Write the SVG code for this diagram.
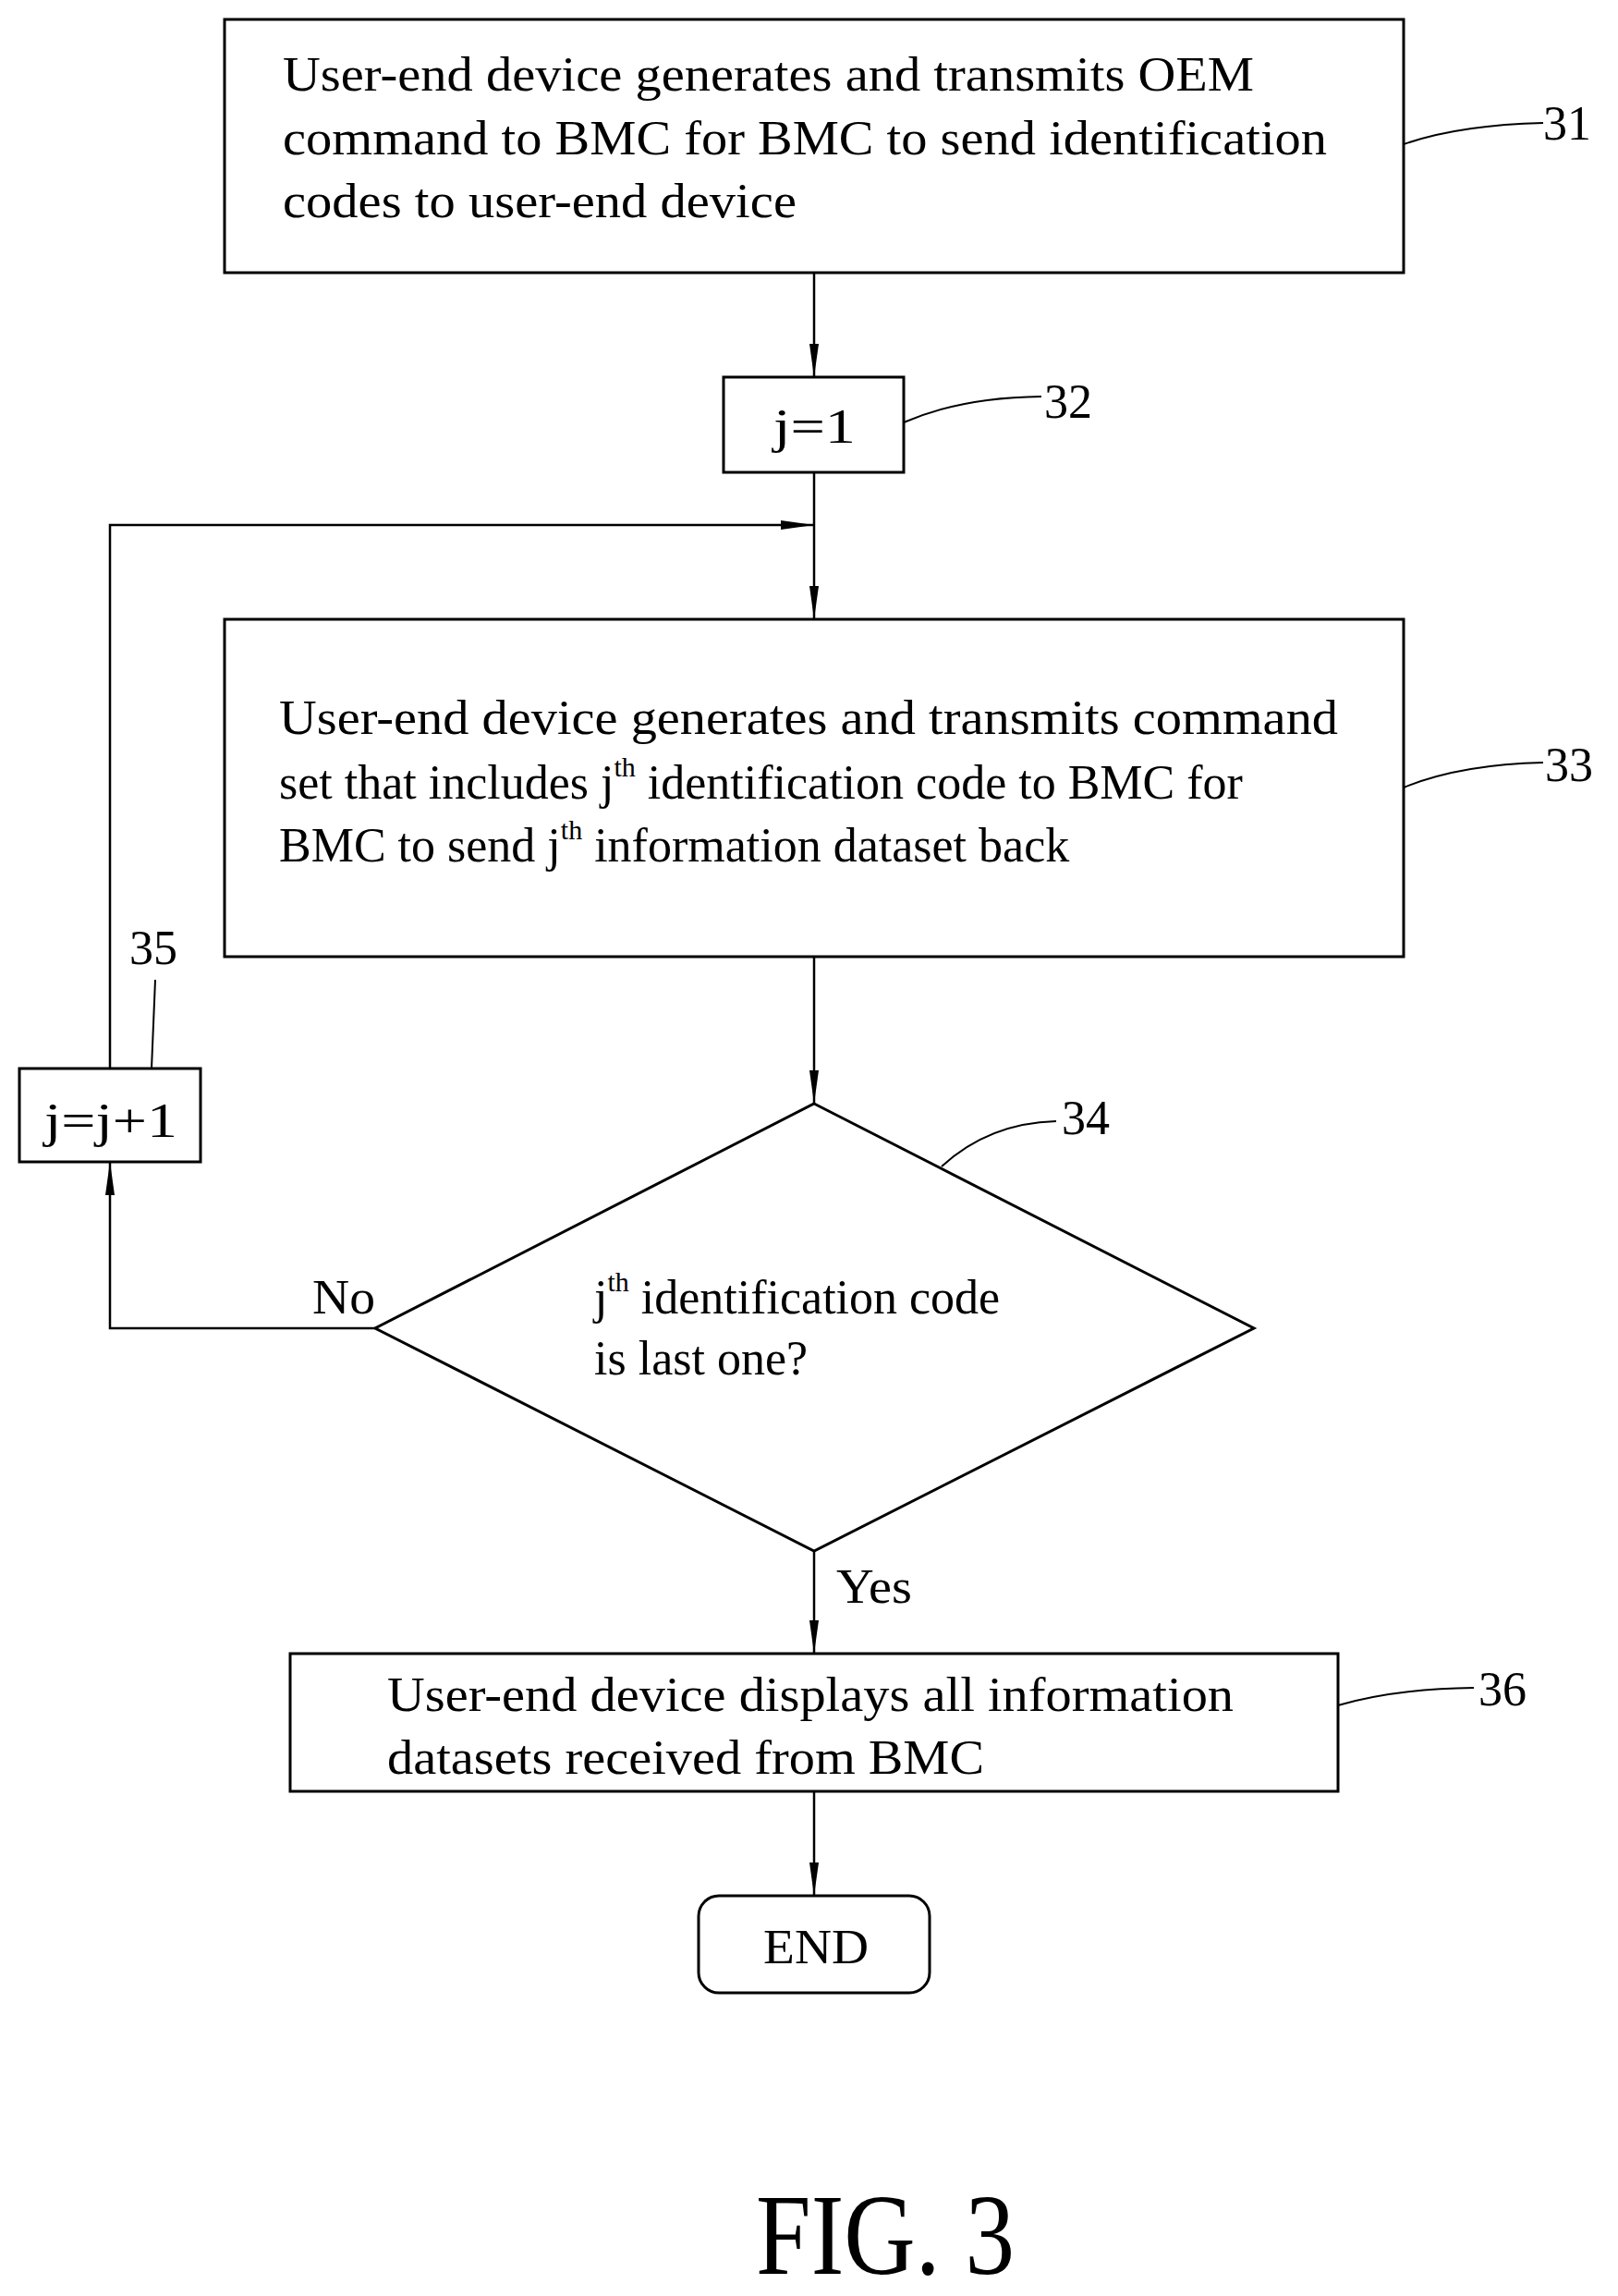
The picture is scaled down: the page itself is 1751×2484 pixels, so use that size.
<svg xmlns="http://www.w3.org/2000/svg" width="1751" height="2484" viewBox="0 0 1751 2484">
<style>
.b{fill:#fff;stroke:#000;stroke-width:3}
.t{font-family:"Liberation Serif",serif;font-size:52px;fill:#000}
.s{font-size:30px}
.l{fill:none;stroke:#000;stroke-width:2}
.c{fill:none;stroke:#000;stroke-width:2.5}
</style>
<defs><marker id="a" markerWidth="14" markerHeight="36" refX="13" refY="6" orient="auto" markerUnits="userSpaceOnUse" viewBox="0 0 14 12"><path d="M0,3 L14,6 L0,9 Z" fill="#000"/></marker>
<marker id="ar" markerWidth="36" markerHeight="12" refX="36" refY="6" orient="auto" markerUnits="userSpaceOnUse" viewBox="0 0 36 12"><path d="M0,1 L36,6 L0,11 Z" fill="#000"/></marker></defs>
<g id="connectors">
<path class="c" d="M881,295 V408" marker-end="url(#ar)"/>
<path class="c" d="M881,511 V670" marker-end="url(#ar)"/>
<path class="c" d="M119,1156 V568 H881" marker-end="url(#ar)"/>
<path class="c" d="M881,1035 V1194" marker-end="url(#ar)"/>
<path class="c" d="M406,1437 H119 V1257" marker-end="url(#ar)"/>
<path class="c" d="M881,1678 V1789" marker-end="url(#ar)"/>
<path class="c" d="M881,1938 V2051" marker-end="url(#ar)"/>
<text class="t" x="338" y="1421" textLength="68" lengthAdjust="spacingAndGlyphs">No</text>
<text class="t" x="905" y="1734" textLength="82" lengthAdjust="spacingAndGlyphs">Yes</text>
</g>
<g id="n31"><rect class="b" x="243" y="21" width="1276" height="274"/>
<text class="t" x="306" y="98" textLength="1051" lengthAdjust="spacingAndGlyphs">User-end device generates and transmits OEM</text>
<text class="t" x="306" y="167" textLength="1130" lengthAdjust="spacingAndGlyphs">command to BMC for BMC to send identification</text>
<text class="t" x="306" y="235" textLength="556" lengthAdjust="spacingAndGlyphs">codes to user-end device</text>
<path class="l" d="M1519,156 Q1580,135 1670,133"/><text class="t" x="1670" y="151">31</text></g>
<g id="n32"><rect class="b" x="783" y="408" width="195" height="103"/>
<text class="t" x="837" y="479" textLength="89" lengthAdjust="spacingAndGlyphs">j=1</text>
<path class="l" d="M978,457 Q1040,430 1127,429"/><text class="t" x="1130" y="452">32</text></g>
<g id="n33"><rect class="b" x="243" y="670" width="1276" height="365"/>
<text class="t" x="302" y="794" textLength="1146" lengthAdjust="spacingAndGlyphs">User-end device generates and transmits command</text>
<text class="t" x="302" y="864">set that includes j<tspan class="s" dy="-24">th</tspan><tspan dy="24"> identification code to BMC for</tspan></text>
<text class="t" x="302" y="932">BMC to send j<tspan class="s" dy="-24">th</tspan><tspan dy="24"> information dataset back</tspan></text>
<path class="l" d="M1519,852 Q1580,827 1670,825"/><text class="t" x="1672" y="845">33</text></g>
<g id="n34"><path class="b" d="M881,1194 L1357,1437 L881,1678 L406,1437 Z"/>
<text class="t" x="643" y="1421">j<tspan class="s" dy="-24">th</tspan><tspan dy="24"> identification code</tspan></text>
<text class="t" x="643" y="1487">is last one?</text>
<path class="l" d="M1019,1262 Q1070,1215 1143,1213"/><text class="t" x="1149" y="1227">34</text></g>
<g id="n35"><rect class="b" x="21" y="1156" width="196" height="101"/>
<text class="t" x="48" y="1230" textLength="144" lengthAdjust="spacingAndGlyphs">j=j+1</text>
<path class="l" d="M164,1156 L168,1060"/><text class="t" x="140" y="1043">35</text></g>
<g id="n36"><rect class="b" x="314" y="1789" width="1134" height="149"/>
<text class="t" x="419" y="1851" textLength="916" lengthAdjust="spacingAndGlyphs">User-end device displays all information</text>
<text class="t" x="419" y="1919" textLength="646" lengthAdjust="spacingAndGlyphs">datasets received from BMC</text>
<path class="l" d="M1448,1845 Q1510,1827 1595,1826"/><text class="t" x="1600" y="1845">36</text></g>
<g id="end"><rect class="b" x="756" y="2051" width="250" height="105" rx="22"/>
<text class="t" x="826" y="2124" textLength="114" lengthAdjust="spacingAndGlyphs">END</text></g>
<text class="t" x="818" y="2460" style="font-size:125px" textLength="280" lengthAdjust="spacingAndGlyphs">FIG. 3</text>
</svg>
